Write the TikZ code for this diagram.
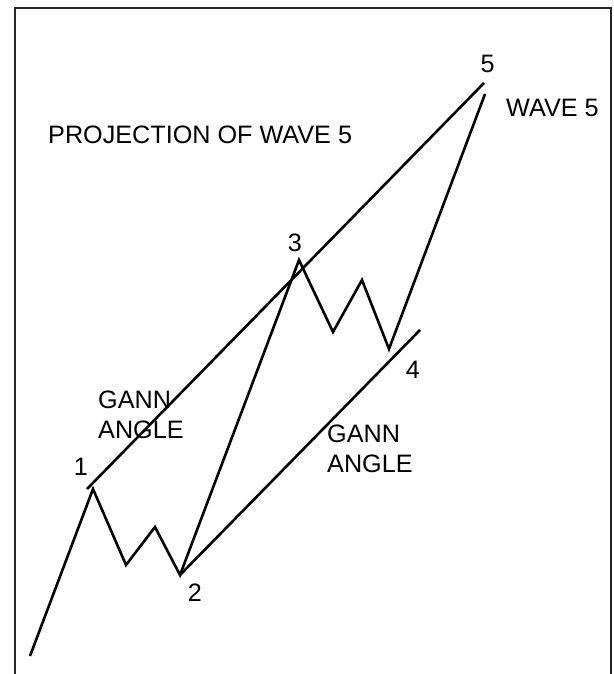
\documentclass[tikz,border=0pt]{standalone}
\usepackage{fontspec}
\setmainfont{Liberation Sans}
\usepackage{tikz}
\usetikzlibrary{positioning}
\tikzset{
  frame/.style={draw=black!85,line width=2pt},
  wave/.style={draw=black,line width=2.6pt,line join=miter},
  gann/.style={draw=black,line width=2.6pt},
  tag/.style={inner sep=0pt,font=\fontsize{25.2}{29.5}\selectfont},
  note/.style={inner sep=0pt,align=left,font=\fontsize{25.2}{29.5}\selectfont}
}
\begin{document}
\begin{tikzpicture}[x=1pt,y=-1pt]
  \useasboundingbox (0,0) rectangle (613,674);
  \draw[frame] (15,674) -- (15,8) -- (611,8) -- (611,674);
  % wave points
  \coordinate (w0) at (30,656);
  \coordinate (w1) at (93,489);
  \coordinate (a1) at (126,565);
  \coordinate (b1) at (155,527);
  \coordinate (w2) at (180,575);
  \coordinate (w3) at (299,260);
  \coordinate (a3) at (333,332);
  \coordinate (b3) at (362,280);
  \coordinate (w4) at (389,349);
  \coordinate (w5) at (485,94);
  % gann line ends
  \coordinate (g1) at (87,489);
  \coordinate (g5) at (484,83);
  \coordinate (g4) at (420,330);
  \draw[wave] (w0) -- (w1) -- (a1) -- (b1) -- (w2) -- (w3) -- (a3) -- (b3) -- (w4) -- (w5);
  \draw[gann] (g1) -- (g5);
  \draw[gann] (w2) -- (g4);
  % labels
  \node[tag,anchor=base] (n1) at (81,475) {1};
  \node[tag,anchor=base] (n2) at (195,601) {2};
  \node[tag,anchor=base] (n3) at (295,251) {3};
  \node[tag,anchor=base] (n4) at (413,378) {4};
  \node[tag,anchor=base] (n5) at (487.5,73) {5};
  \node[tag,anchor=base west] (proj) at (48,143) {PROJECTION OF WAVE 5};
  \node[tag,anchor=base west] (wave5) at (506,117) {WAVE 5};
  \node[note,anchor=base west] (gannA) at (98,438) {GANN\\ANGLE};
  \node[note,anchor=base west] (gannB) at (327,472) {GANN\\ANGLE};
\end{tikzpicture}
\end{document}
